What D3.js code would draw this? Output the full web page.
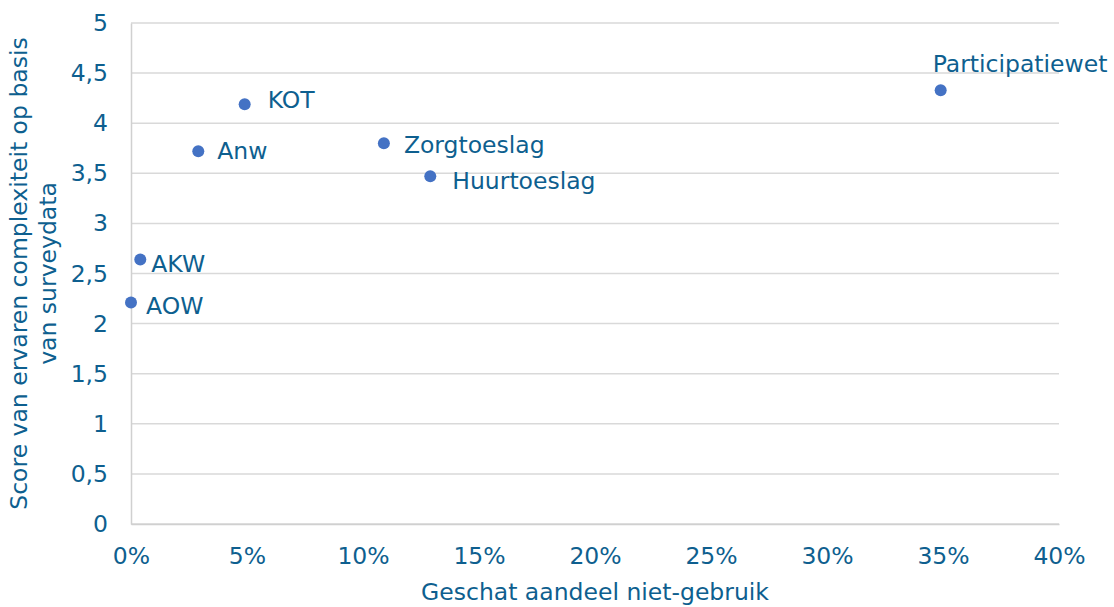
<!DOCTYPE html>
<html lang="nl">
<head>
<meta charset="UTF-8">
<title>Niet-gebruik en complexiteit</title>
<script src="https://cdn.jsdelivr.net/npm/d3@7"></script>
<style>
    body { margin: 0; background: #fff; }
    text { font-family: "DejaVu Sans", Verdana, sans-serif; fill: #0e5f8f; }
</style>
</head>
<body>
<svg id="chart" width="1114" height="607"></svg>
<script>
    // regelingen met geschat niet-gebruik (%) en score complexiteit
    const names = ["AOW", "AKW", "Anw", "KOT", "Zorgtoeslag", "Huurtoeslag", "Participatiewet"];
    const nonUse = [0.0, 0.4, 2.9, 4.9, 10.9, 12.9, 34.9];
    const score = [2.21, 2.64, 3.72, 4.19, 3.80, 3.47, 4.33];
    const xTicks = [0, 5, 10, 15, 20, 25, 30, 35, 40];
    const yTicks = [0, 0.5, 1, 1.5, 2, 2.5, 3, 3.5, 4, 4.5, 5];

    const data = names.map((n, i) => ({name: n, x: nonUse[i], y: score[i]}));

    const margin = {top: 23, right: 55, bottom: 83, left: 131};
    const width = 1114 - margin.left - margin.right;
    const height = 607 - margin.top - margin.bottom;
    const fs = "23.5px";

    const svg = d3.select("#chart");
    const chart = svg.append("g")
        .attr("transform", `translate(${margin.left},${margin.top})`);

    const x = d3.scaleLinear().domain([0, 40]).range([0, width]);
    const y = d3.scaleLinear().domain([0, 5]).range([height, 0]);

    const fmt = d => String(d).replace(".", ",");

    // gridlijnen
    chart.append("g")
        .selectAll("line")
        .data(yTicks)
        .enter().append("line")
        .attr("x1", 0).attr("x2", width)
        .attr("y1", d => y(d)).attr("y2", d => y(d))
        .attr("stroke", "#d9d9d9").attr("stroke-width", 1.5);

    const yAxis = chart.append("g")
        .call(d3.axisLeft(y).tickValues(yTicks).tickFormat(fmt).tickSize(0).tickPadding(23));
    yAxis.select(".domain").attr("stroke", "#d0d0d0").attr("stroke-width", 1.5);
    yAxis.selectAll("text").style("font-size", fs).attr("fill", "#0e5f8f");

    const xAxis = chart.append("g")
        .attr("transform", `translate(0,${height})`)
        .call(d3.axisBottom(x).tickValues(xTicks).tickFormat(d => d + "%").tickSize(0).tickPadding(23));
    xAxis.select(".domain").attr("stroke", "#d0d0d0").attr("stroke-width", 1.5);
    xAxis.selectAll("text").style("font-size", fs).attr("fill", "#0e5f8f");

    chart.selectAll(".dot")
        .data(data)
        .enter().append("circle")
        .attr("class", "dot")
        .attr("cx", d => x(d.x))
        .attr("cy", d => y(d.y))
        .attr("r", 6)
        .attr("fill", "#4472c4");

    // label offsets zoals in het origineel
    const offsets = {
        AOW: [15, 3], AKW: [11, 4], Anw: [19, 0], KOT: [23, -4],
        Zorgtoeslag: [20, 2], Huurtoeslag: [22, 4], Participatiewet: [-8, -26]
    };

    chart.selectAll(".label")
        .data(data)
        .enter().append("text")
        .attr("class", "label")
        .attr("x", d => x(d.x) + offsets[d.name][0])
        .attr("y", d => y(d.y) + offsets[d.name][1])
        .attr("dy", "0.35em")
        .style("font-size", fs)
        .text(d => d.name);

    svg.append("text")
        .attr("x", margin.left + width / 2)
        .attr("y", 600)
        .attr("text-anchor", "middle")
        .style("font-size", fs)
        .text("Geschat aandeel niet-gebruik");

    const yTitle = svg.append("text")
        .attr("transform", `translate(0,${margin.top + height / 2}) rotate(-90)`)
        .attr("text-anchor", "middle")
        .style("font-size", fs);
    yTitle.append("tspan").attr("x", 0).attr("y", 27).text("Score van ervaren complexiteit op basis");
    yTitle.append("tspan").attr("x", 0).attr("y", 56).text("van surveydata");
</script>
</body>
</html>
